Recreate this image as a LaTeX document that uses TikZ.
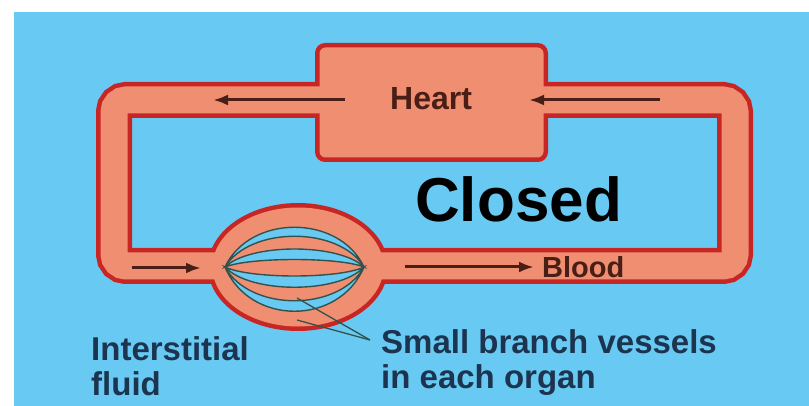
\documentclass[tikz,border=0pt]{standalone}
\usepackage{fontspec}
\setmainfont{Liberation Sans}
\usepackage{tikz}
\usetikzlibrary{arrows,arrows.meta,positioning}

\definecolor{skyblue}{RGB}{104,202,242}
\definecolor{vesselred}{RGB}{200,38,36}
\definecolor{vesselpink}{RGB}{240,142,114}
\definecolor{flowbrown}{RGB}{72,30,22}
\definecolor{labelnavy}{RGB}{28,52,80}
\definecolor{lensline}{RGB}{52,82,76}

\begin{document}
\begin{tikzpicture}[>={Latex[length=15pt,width=11pt]}, x=1pt, y=-1pt,
	flow/.style={flowbrown, line width=3pt, ->},
	lens/.style={fill=skyblue, draw=lensline, line width=1.4pt},
	leader/.style={lensline, line width=1.3pt},
	caption/.style={labelnavy, anchor=north west, inner sep=0pt, align=left, font=\fontsize{33}{35}\selectfont\bfseries}]
		\useasboundingbox (0,0) rectangle (809,406);
		% Background
		\fill[skyblue] (14,12) rectangle (809,406);
		
		% Vessel walls
		\draw[vesselred, line width=36pt, rounded corners=12pt] (114,100) rectangle (735,266);
		\fill[vesselred, rounded corners=10pt] (315,43) rectangle (548,162);
		\fill[vesselred] (298,267) ellipse [x radius=90, y radius=64];
		
		% Vessel lumen
		\draw[vesselpink, line width=27pt, rounded corners=12pt] (114,100) rectangle (735,266);
		\fill[vesselpink, rounded corners=6pt] (319.5,47.5) rectangle (543.5,157.5);
		\fill[vesselpink] (298,267) ellipse [x radius=85.5, y radius=59.5];
		
		% Branch vessels
		\coordinate (capL) at (225,267);
		\coordinate (capR) at (364,267);
		\foreach \up/\lo in {-53/-41, -24/-10, 12/27, 45/59}
			\draw[lens] (capL) .. controls ([shift={(25,\up)}]capL) and ([shift={(-25,\up)}]capR) .. (capR)
				.. controls ([shift={(-25,\lo)}]capR) and ([shift={(25,\lo)}]capL) .. (capL) -- cycle;
		
		% Flow arrows
		\coordinate (topLtail) at (345,100);
		\coordinate (topLtip) at (213,100);
		\coordinate (topRtail) at (660,100);
		\coordinate (topRtip) at (529,100);
		\coordinate (botLtail) at (132,268);
		\coordinate (botLtip) at (201,268);
		\coordinate (botRtail) at (405,267);
		\coordinate (botRtip) at (534,267);
		\draw[flow] (topLtail) -- (topLtip);
		\draw[flow] (topRtail) -- (topRtip);
		\draw[flow] (botLtail) -- (botLtip);
		\draw[flow] (botRtail) -- (botRtip);
		
		% Labels
		\node[anchor=base west, inner sep=0pt, text=flowbrown, font=\fontsize{32}{32}\selectfont\bfseries] (heart) at (390,110) {Heart};
		\node[anchor=base west, inner sep=0pt, font=\fontsize{62}{62}\selectfont\bfseries] (closed) at (415,222) {Closed};
		\node[anchor=base west, inner sep=0pt, text=flowbrown, font=\fontsize{29}{29}\selectfont\bfseries] (blood) at (542,278) {Blood};
		\node[caption] (fluid) at (91,336) {Interstitial\\fluid};
		\node[caption] (vessels) at (381,329) {Small branch vessels\\in each organ};
		
		% Leader lines
		\coordinate (knot) at (370,340);
		\coordinate (branchA) at (297,298);
		\coordinate (branchB) at (297,320);
		\draw[leader] (knot) -- (branchA);
		\draw[leader] (knot) -- (branchB);
	\end{tikzpicture}
\end{document}
